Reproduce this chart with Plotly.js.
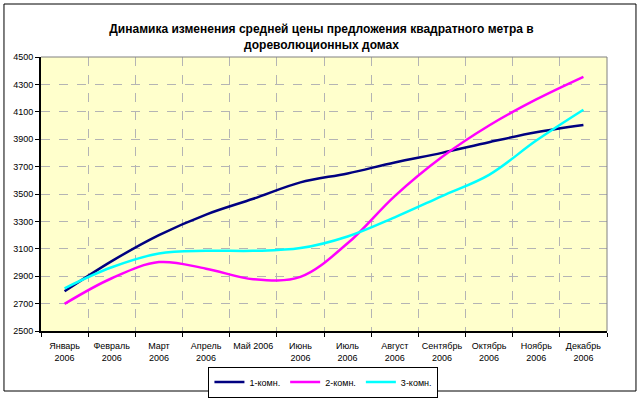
<!DOCTYPE html>
<html>
<head>
<meta charset="utf-8">
<script src="https://cdn.plot.ly/plotly-3.0.1.min.js"></script>
<style>html,body{margin:0;padding:0;background:#fff;}#chart{width:643px;height:398px;}</style>
</head>
<body>
<div id="chart"></div>
<script>
var categories = ["Январь<br>2006","Февраль<br>2006","Март<br>2006","Апрель<br>2006","Май 2006<br> ","Июнь<br>2006","Июль<br>2006","Август<br>2006","Сентябрь<br>2006","Октябрь<br>2006","Ноябрь<br>2006","Декабрь<br>2006"];
var seriesNames = ["1-комн.","2-комн.","3-комн."];
var room1 = [2790, 3010, 3200, 3350, 3465, 3585, 3650, 3730, 3800, 3878, 3950, 4003];
var room2 = [2698, 2885, 3003, 2955, 2878, 2895, 3140, 3485, 3770, 4000, 4190, 4355];
var room3 = [2812, 2965, 3065, 3085, 3085, 3105, 3190, 3330, 3485, 3640, 3890, 4115];
var yTicks = [2500,2700,2900,3100,3300,3500,3700,3900,4100,4300,4500];

var colors = ["#000080","#FF00FF","#00FFFF"];
var values = [room1, room2, room3];
var traces = values.map(function(v, i){
  return {
    x: categories, y: v, name: seriesNames[i], type: "scatter", mode: "lines",
    line: {color: colors[i], width: 2.5, shape: "spline", smoothing: 1}
  };
});

var fontFam = "'Liberation Sans', Arial, sans-serif";
var layout = {
  width: 643, height: 398,
  margin: {l: 41, r: 36, t: 57, b: 67, autoexpand: false},
  paper_bgcolor: "#FFFFFF",
  plot_bgcolor: "#FFFFCC",
  font: {family: fontFam, size: 9, color: "#000"},
  title: {
    text: "<b>Динамика изменения средней цены предложения квадратного метра в<br>дореволюционных домах</b>",
    font: {family: fontFam, size: 12, color: "#000"},
    x: 0.5, xref: "container", xanchor: "center",
    y: 0.916, yref: "container", yanchor: "middle"
  },
  xaxis: {
    type: "category",
    range: [-0.5, 11.5],
    tickson: "boundaries",
    ticks: "outside", ticklen: 4, tickcolor: "#000", tickwidth: 1,
    ticklabelstandoff: 5,
    showline: true, linecolor: "#000", linewidth: 2,
    showgrid: true, gridcolor: "#B4B4B4", griddash: "dash", gridwidth: 1,
    tickangle: 0,
    tickfont: {family: fontFam, size: 9, color: "#000"},
    fixedrange: true, zeroline: false, automargin: false
  },
  yaxis: {
    range: [2500, 4500],
    tickvals: yTicks,
    ticktext: yTicks.map(String),
    ticks: "outside", ticklen: 4, tickcolor: "#000", tickwidth: 1,
    showline: true, linecolor: "#000", linewidth: 2,
    showgrid: true, gridcolor: "#B4B4B4", griddash: "dash", gridwidth: 1,
    tickfont: {family: fontFam, size: 9, color: "#000"},
    zeroline: false, fixedrange: true, automargin: false
  },
  showlegend: true,
  legend: {
    orientation: "h",
    x: 0.499, xanchor: "center",
    y: -0.13, yanchor: "top",
    bordercolor: "#000", borderwidth: 1,
    bgcolor: "#FFFFFF",
    font: {family: fontFam, size: 9, color: "#000"},
    itemwidth: 30,
    tracegroupgap: 0
  },
  shapes: [
    {type: "line", xref: "paper", yref: "paper", x0: 0, x1: 1, y0: 1, y1: 1, line: {color: "#808080", width: 1}},
    {type: "line", xref: "paper", yref: "paper", x0: 1, x1: 1, y0: 0, y1: 1, line: {color: "#808080", width: 1}},
    {type: "rect", xref: "paper", yref: "paper", x0: -0.0654, x1: 1.0512, y0: -0.219, y1: 1.1934, line: {color: "#000", width: 1}, layer: "below"}
  ]
};

Plotly.newPlot("chart", traces, layout, {staticPlot: true, displayModeBar: false});
</script>
</body>
</html>
